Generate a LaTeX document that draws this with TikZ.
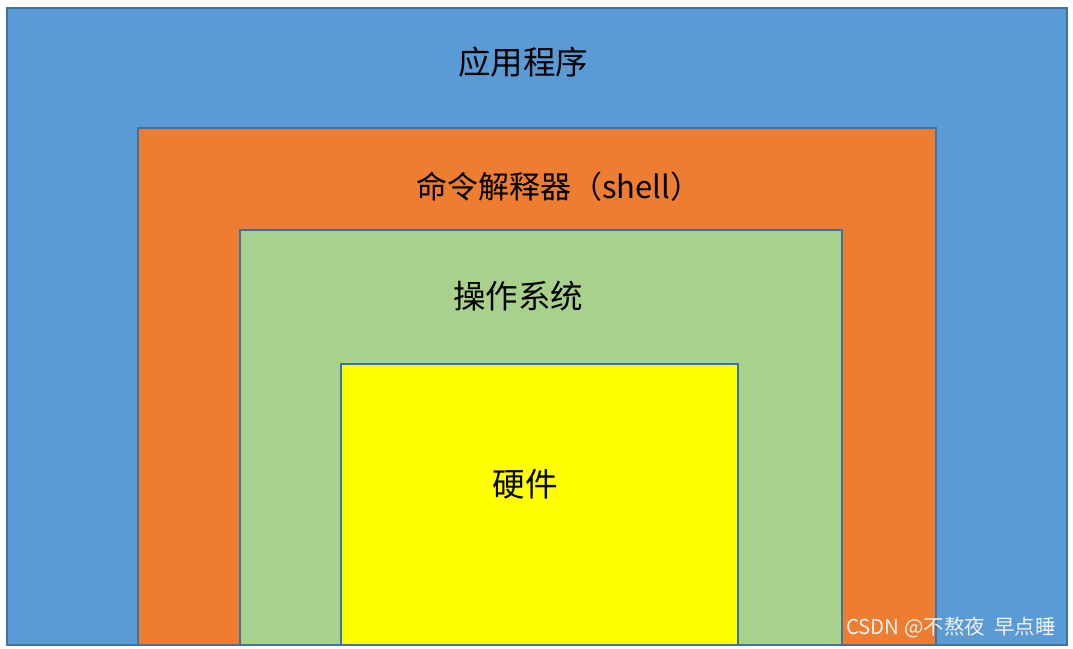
\documentclass[tikz,border=0pt]{standalone}
\usepackage{fontspec}
\newfontfamily\cjk{Noto Sans CJK SC}
\definecolor{edge}{HTML}{41719C}
\definecolor{cblue}{HTML}{5B9BD5}
\definecolor{corange}{HTML}{ED7D31}
\definecolor{cgreen}{HTML}{A9D18E}
\definecolor{cyellow}{HTML}{FFFF00}
\tikzset{layer/.style={draw=edge, line width=2pt},
  lab/.style={font=\cjk\fontsize{32.5}{38}\selectfont, text=black, inner sep=0pt}}
\begin{document}
\begin{tikzpicture}[x=1pt,y=-1pt]
\useasboundingbox (0,0) rectangle (1073,648);
\fill[white] (0,0) rectangle (1073,648);
\path[layer, fill=cblue] (7,8) rectangle (1067,645);
\path[layer, fill=corange] (138,128) rectangle (936,645);
\path[layer, fill=cgreen] (240,230) rectangle (842,645);
\path[layer, fill=cyellow] (341,364) rectangle (738,645);
\node[lab] (app) at (523,62) {应用程序};
\node[lab, font=\cjk\fontsize{31}{36}\selectfont] (shell) at (559,187) {命令解释器（shell）};
\node[lab] (os) at (518,296) {操作系统};
\node[lab] (hw) at (525,484) {硬件};
\node[font=\cjk\fontsize{20.5}{22}\selectfont, text=white!88!gray, inner sep=0pt] (wm) at (951,628) {CSDN @不熬夜\ \ 早点睡};
\end{tikzpicture}
\end{document}
